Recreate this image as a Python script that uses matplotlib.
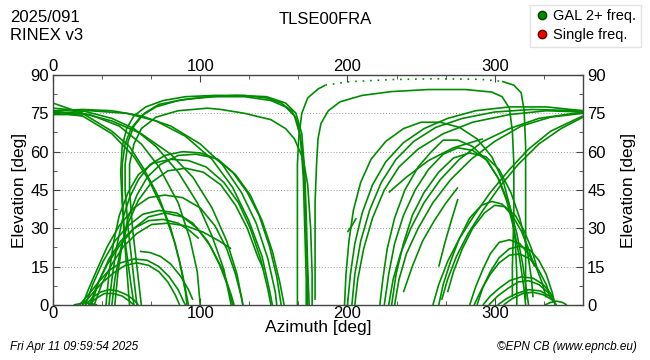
import matplotlib
matplotlib.use("Agg")
import matplotlib.pyplot as plt
from matplotlib.lines import Line2D
from matplotlib.ticker import MultipleLocator

plt.rcParams['font.family'] = ['Liberation Sans', 'DejaVu Sans']

# tracks: lists of (azimuth, elevation)
left_desc = [
    [(0, 79), (20, 75), (40, 68), (52, 62), (62, 53), (72, 42), (80, 30), (86, 17), (90, 5), (91, 0)],
    [(0, 76), (20, 74), (40, 67), (55, 58), (65, 49), (75, 37), (83, 24), (88, 12), (92, 0)],
    [(0, 75.5), (25, 74.5), (45, 70), (60, 63), (72, 54), (85, 40), (93, 26), (98, 13), (100, 0)],
    [(0, 76), (20, 76.5), (40, 76), (60, 74), (80, 70), (100, 63), (115, 55), (128, 44), (138, 32), (146, 18), (151, 5), (152, 0)],
    [(0, 75), (25, 76), (50, 75), (70, 72), (90, 66), (108, 57), (122, 46), (133, 33), (142, 19), (147, 6), (149, 0)],
    [(0, 75.5), (20, 75), (40, 72), (60, 67), (80, 59), (95, 50), (108, 38), (118, 25), (125, 12), (129, 0)],
    [(0, 77), (20, 76), (40, 73), (55, 69), (70, 62), (85, 52), (98, 40), (108, 27), (116, 14), (121, 0)],
    [(0, 74.5), (10, 74.5), (20, 74)],
]

left_high = [
    [(55, 0), (52, 12), (49, 25), (47, 40), (46, 52), (47, 62), (50, 69), (55, 74), (63, 77.5), (75, 80), (90, 81.5),
     (110, 82), (130, 82), (145, 81), (155, 79), (162, 76), (166, 72), (169, 62), (171, 45), (172, 25), (173, 8), (173, 0)],
    [(57, 0), (54, 15), (51, 30), (49, 45), (49, 55), (51, 64), (55, 70), (62, 75), (72, 78.5), (90, 80.5), (110, 81.5),
     (130, 81.5), (148, 80), (158, 77.5), (164, 74), (168, 66), (170, 50), (171, 30), (172, 10), (172, 0)],
    [(52, 0), (50, 15), (48, 30), (47, 45), (47, 55), (49, 63), (53, 69), (60, 74), (70, 77.5), (85, 80), (105, 81.5),
     (125, 82), (145, 81.5), (158, 79), (165, 75), (169, 67), (171, 52), (172, 35), (173, 15), (174, 0)],
    [(60, 0), (57, 15), (54, 30), (52, 45), (52, 55), (55, 63), (60, 69), (70, 73.5), (85, 76), (105, 77), (114, 76.5),
     (130, 75), (148, 72.5), (158, 69), (164, 65), (170, 57), (173, 47), (175, 30), (176, 12), (176, 0)],
]

left_rise = [
    [(38, 0), (40, 10), (43, 22), (47, 33), (52, 42), (58, 49), (66, 55), (76, 58.5), (88, 60), (100, 59.5), (112, 57),
     (124, 51), (134, 43), (142, 33), (149, 21), (154, 9), (157, 0)],
    [(42, 0), (44, 12), (47, 24), (51, 34), (57, 43), (64, 50), (73, 55), (85, 58.5), (97, 59), (110, 57.5), (122, 52),
     (132, 44), (140, 35), (147, 23), (152, 11), (155, 0)],
    [(36, 0), (38, 12), (41, 24), (45, 35), (51, 44), (58, 51), (68, 55.5), (80, 57), (92, 56.5), (104, 54), (116, 48),
     (126, 40), (134, 30), (141, 18), (146, 6), (148, 0)],
    [(40, 0), (42, 10), (46, 22), (51, 32), (58, 41), (67, 48), (78, 52.5), (90, 53.5), (102, 52), (114, 47), (124, 39),
     (132, 30), (139, 19), (143, 14)],
    [(20, 0), (24, 6), (30, 14), (37, 23), (45, 31), (55, 38), (65, 42), (76, 43), (88, 42), (100, 38), (110, 31),
     (118, 22), (124, 12), (128, 3), (129, 0)],
    [(22, 0), (27, 8), (34, 17), (42, 25), (51, 31), (61, 35.5), (72, 37), (84, 36), (95, 32), (105, 25), (113, 16),
     (119, 7), (122, 0)],
    [(25, 0), (30, 8), (37, 16), (45, 23), (55, 30), (65, 34.5), (76, 36), (88, 34.5), (98, 30), (107, 23), (115, 14),
     (121, 4), (123, 0)],
    [(28, 0), (33, 8), (40, 16), (48, 23), (57, 28), (67, 31.5), (78, 32), (90, 31), (102, 28.5), (113, 25), (121, 22)],
    [(26, 0), (31, 9), (38, 18), (46, 25), (55, 30), (65, 33), (75, 33.5), (85, 32), (93, 29), (99, 26)],
    [(18, 0), (24, 4), (31, 9), (38, 13.5), (46, 16.5), (55, 18), (64, 17.5), (72, 15), (79, 11), (85, 6), (89, 1), (90, 0)],
    [(20, 0), (26, 4), (33, 8.5), (41, 12.5), (49, 15.5), (57, 16.5), (65, 15.5), (72, 13), (78, 9), (83, 4), (86, 0)],
    [(59, 21), (66, 20.5), (73, 19), (80, 16), (87, 11), (92, 6), (95, 2)],
    [(22, 0), (27, 3), (32, 5), (38, 6), (44, 5.5), (50, 4), (55, 2), (58, 0)],
    [(24, 0), (29, 2.5), (35, 4.5), (41, 4.5), (47, 3.5), (52, 1.5), (55, 0)],
    [(14, 0), (18, 0.5), (22, 1), (26, 0.5), (30, 0)],
]

right_high = [
    [(166, 0), (166, 20), (166, 40), (166, 55), (167, 66), (169, 75), (173, 81), (180, 84.5), (185, 86)],
    [(305, 87.5), (313, 86), (318, 83), (320, 76), (321, 62), (321, 45), (321, 25), (321, 8), (321, 2)],
    [(178, 2), (178, 20), (178, 40), (179, 55), (180, 65), (182, 71), (187, 76), (195, 79.5), (210, 82), (230, 83.5),
     (255, 84.3), (280, 84.3), (298, 83.3), (305, 81.5), (310, 77), (312, 68), (313, 55), (313, 35), (312, 15), (312, 3)],
]
top_dotted = [(185, 86), (200, 87.3), (230, 88.2), (260, 88.5), (290, 88.3), (305, 87.5)]

right_arcs = [
    [(198, 0), (199, 12), (201, 25), (204, 37), (209, 48), (216, 57), (226, 64), (238, 69), (250, 71.5), (263, 71.5),
     (276, 69.5), (288, 65), (298, 58), (306, 48), (311, 37), (314, 25), (315, 12), (315, 0)],
    [(222, 0), (224, 10), (227, 22), (232, 34), (239, 45), (248, 54), (257, 60), (265, 64.5), (275, 64.5), (285, 62),
     (294, 57), (302, 50), (308, 41), (313, 30), (317, 18), (320, 6), (321, 0)],
    [(225, 0), (228, 12), (232, 24), (238, 35), (246, 45), (255, 53), (265, 59), (275, 61.5), (285, 60.5), (295, 56.5),
     (303, 49), (310, 39), (315, 28), (319, 16), (322, 4), (323, 0)],
    [(230, 0), (233, 12), (238, 24), (244, 35), (252, 44), (262, 52), (272, 57.5), (283, 59.5), (294, 58), (303, 53),
     (311, 44), (317, 34), (322, 22), (325, 10), (326, 3)],
    [(262, 0), (265, 8), (270, 17), (276, 26), (283, 34), (291, 39), (298, 40.5), (305, 39.5), (312, 35), (318, 29),
     (323, 22), (327, 15)],
    [(268, 5), (272, 13), (278, 22), (285, 30), (293, 36), (300, 39), (307, 38.5), (314, 35), (320, 29), (325, 22), (329, 14)],
    [(283, 0), (287, 7), (292, 14), (297, 20), (303, 24.5), (310, 25.5), (317, 24), (323, 20), (328, 15), (332, 9), (335, 3)],
    [(288, 0), (292, 7), (297, 13), (303, 18.5), (310, 22), (317, 23), (324, 21.5), (330, 17.5), (335, 12), (339, 5), (341, 0)],
    [(286, 0), (291, 6), (297, 12), (303, 16.5), (310, 19.5), (317, 20), (324, 18), (330, 13.5), (335, 8), (338, 3)],
    [(292, 0), (297, 3.5), (303, 6.5), (310, 9.5), (318, 11), (326, 10.5), (333, 8), (338, 4.5), (341, 1)],
    [(296, 0), (302, 3.5), (309, 6.5), (316, 9), (323, 9.5), (330, 8), (336, 5), (340, 1.5)],
    [(302, 0), (308, 2.5), (315, 4.5), (323, 6), (331, 5.5), (337, 3.5), (341, 1)],
    [(306, 0), (312, 2.5), (319, 4.5), (326, 5), (333, 4), (339, 2), (342, 0)],
    [(334, 0), (338, 1), (342, 1.5), (346, 1), (349, 0)],
]

right_rise = [
    [(200, 0), (202, 12), (205, 24), (210, 36), (217, 47), (226, 56), (238, 63.5), (252, 69), (268, 73), (287, 76),
     (310, 77.5), (335, 77.5), (360, 76)],
    [(203, 0), (205, 12), (209, 25), (215, 37), (223, 48), (233, 57), (245, 64), (260, 69.5), (278, 73), (300, 75.5),
     (325, 76.5), (360, 76)],
    [(205, 0), (207, 10), (211, 22), (217, 34), (225, 45), (235, 54), (248, 61), (265, 67), (285, 71.5), (310, 74.5),
     (335, 76), (360, 75.5)],
    [(228, 0), (231, 10), (236, 20), (243, 30), (252, 40), (263, 49), (276, 57), (292, 64), (310, 69), (330, 73), (360, 75.5)],
    [(232, 0), (235, 10), (240, 20), (248, 30), (258, 40), (270, 49), (284, 57), (300, 64), (318, 70), (338, 73.5), (360, 75)],
    [(258, 0), (262, 8), (268, 17), (276, 26), (286, 35), (297, 44), (310, 53), (323, 61), (338, 68), (360, 74)],
    [(264, 2), (268, 10), (274, 19), (282, 28), (292, 37), (303, 46), (316, 55), (330, 63), (345, 69), (360, 73.5)],
    [(200, 28.5), (203, 31), (206, 34)],
    [(238, 5), (244, 15), (251, 25), (259, 33), (267, 40), (275, 46)],
    [(262, 15), (266, 24), (270, 32), (275, 41.5)],
    [(228, 44), (240, 50), (255, 56.5), (272, 61.5), (292, 65)],
]

green = '#008c00'

fig = plt.figure(figsize=(6.5, 3.6), dpi=100)
ax = fig.add_axes([0.0815, 0.1528, 0.8155, 0.639])

for group in [left_desc, left_high, left_rise, right_high, right_arcs, right_rise]:
    for trk in group:
        az = [p[0] for p in trk]
        el = [p[1] for p in trk]
        ax.plot(az, el, color=green, lw=1.2, solid_capstyle='butt')
ax.plot([p[0] for p in top_dotted], [p[1] for p in top_dotted], color=green, lw=1.2,
        linestyle=(0, (1, 3.5)))

ax.set_xlim(0, 360)
ax.set_ylim(0, 90)
ax.set_xticks([0, 100, 200, 300])
ax.xaxis.set_minor_locator(MultipleLocator(100 / 3))
ax.set_yticks(range(0, 91, 15))
ax.yaxis.set_minor_locator(MultipleLocator(7.5))
ax.tick_params(which='both', direction='in', top=True, right=True, labeltop=True, labelright=True,
               labelsize=12, color='#444444')
ax.tick_params(axis='x', which='major', length=5, pad=1)
ax.tick_params(axis='y', which='major', length=5, pad=3)
ax.tick_params(which='minor', length=3)
ax.grid(axis='y', which='major', color='#999999', linestyle=(0, (1, 2)), lw=0.7)
for s in ax.spines.values():
    s.set_color('#444444')
    s.set_linewidth(1.0)
ax.set_xlabel('Azimuth [deg]', fontsize=12.5, labelpad=-1)
ax.set_ylabel('Elevation [deg]', fontsize=12.5, labelpad=2)
fig.text(0.967, 0.472, 'Elevation [deg]', fontsize=12.5, rotation=90, ha='center', va='center')

fig.text(0.016, 0.95, '2025/091', fontsize=12, va='center')
fig.text(0.016, 0.9, 'RINEX v3', fontsize=12, va='center')
fig.text(0.5, 0.945, 'TLSE00FRA', fontsize=12, ha='center', va='center')
fig.text(0.015, 0.035, 'Fri Apr 11 09:59:54 2025', fontsize=8.5, style='italic', va='center')
fig.text(0.98, 0.035, '\u00a9EPN CB (www.epncb.eu)', fontsize=8.5, style='italic', ha='right', va='center')

handles = [Line2D([], [], marker='o', ls='none', color='#008800', markeredgecolor='#004400', markersize=6),
           Line2D([], [], marker='o', ls='none', color='#ee0000', markeredgecolor='#660000', markersize=6)]
fig.legend(handles, ['GAL 2+ freq.', 'Single freq.'], loc='upper right', bbox_to_anchor=(0.99, 0.995),
           fontsize=10.5, frameon=True, fancybox=False, edgecolor='#dddddd', handletextpad=0.3,
           borderpad=0.3, labelspacing=0.35, handlelength=1.0, borderaxespad=0.2)

fig.savefig('out.png', dpi=100)
